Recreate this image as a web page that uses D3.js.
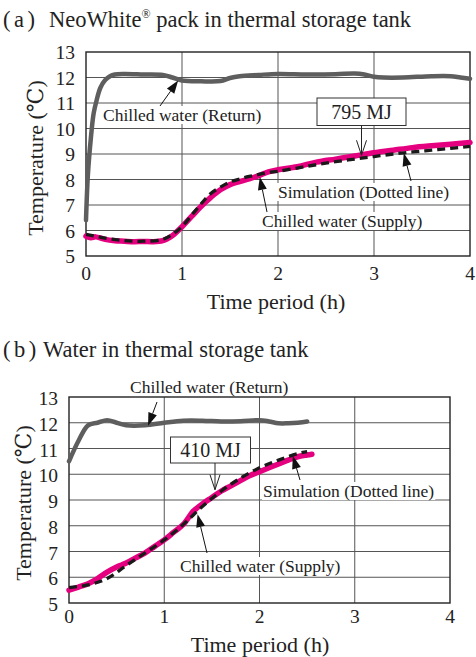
<!DOCTYPE html>
<html><head><meta charset="utf-8">
<script src="https://cdn.jsdelivr.net/npm/d3@7"></script>
<style>
body{margin:0;background:#fff}
svg text{font-family:"Liberation Serif","Times New Roman","DejaVu Serif",serif;fill:#222}
</style>
</head><body>
<svg id="c" width="476" height="657"></svg>
<script>
// ---- data ----
const xTicks = [0, 1, 2, 3, 4];
const yTicks = [5, 6, 7, 8, 9, 10, 11, 12, 13];

// (a) NeoWhite pack
const retA_t = [0, 0.02, 0.05, 0.08, 0.11, 0.15, 0.2, 0.25, 0.3, 0.4, 0.6, 0.8, 0.9, 1.0, 1.2, 1.4, 1.5, 1.6, 1.8, 2.0, 2.3, 2.6, 2.8, 2.9, 3.0, 3.1, 3.3, 3.6, 3.8, 3.9, 4.0];
const retA_v = [6.4, 8.2, 9.6, 10.6, 11.1, 11.6, 11.9, 12.05, 12.12, 12.14, 12.12, 12.1, 12.0, 11.88, 11.85, 11.86, 11.98, 12.05, 12.1, 12.14, 12.12, 12.13, 12.16, 12.12, 12.03, 12.0, 12.0, 12.05, 12.05, 12.0, 11.95];
const supA_t = [0, 0.05, 0.1, 0.2, 0.3, 0.4, 0.5, 0.6, 0.7, 0.8, 0.85, 0.9, 1.0, 1.1, 1.2, 1.3, 1.4, 1.5, 1.6, 1.7, 1.8, 1.9, 2.0, 2.2, 2.4, 2.6, 2.8, 3.0, 3.2, 3.4, 3.6, 3.8, 4.0];
const supA_v = [5.78, 5.72, 5.75, 5.65, 5.6, 5.58, 5.56, 5.57, 5.56, 5.6, 5.68, 5.8, 6.15, 6.55, 6.95, 7.3, 7.6, 7.8, 7.92, 8.02, 8.15, 8.3, 8.38, 8.5, 8.68, 8.8, 8.92, 9.05, 9.15, 9.25, 9.32, 9.38, 9.45];
const simA_t = [0, 0.2, 0.4, 0.6, 0.8, 0.9, 1.0, 1.1, 1.2, 1.3, 1.4, 1.5, 1.6, 1.7, 1.8, 1.9, 2.0, 2.2, 2.4, 2.6, 2.8, 3.0, 3.2, 3.4, 3.6, 3.8, 4.0];
const simA_v = [5.85, 5.7, 5.6, 5.58, 5.65, 5.85, 6.15, 6.6, 7.05, 7.45, 7.7, 7.9, 8.02, 8.12, 8.2, 8.28, 8.32, 8.45, 8.58, 8.7, 8.8, 8.9, 9.0, 9.08, 9.15, 9.22, 9.3];

// (b) Water
const retB_t = [0, 0.1, 0.2, 0.3, 0.4, 0.5, 0.6, 0.8, 1.0, 1.2, 1.4, 1.6, 1.8, 2.0, 2.1, 2.2, 2.3, 2.4, 2.5];
const retB_v = [10.5, 11.3, 11.9, 12.0, 12.1, 12.0, 11.9, 11.9, 12.0, 12.08, 12.08, 12.05, 12.06, 12.1, 12.05, 11.98, 11.98, 12.0, 12.05];
const supB_t = [0, 0.1, 0.2, 0.3, 0.4, 0.5, 0.6, 0.7, 0.8, 0.9, 1.0, 1.1, 1.2, 1.3, 1.33, 1.4, 1.5, 1.6, 1.7, 1.8, 1.9, 2.0, 2.1, 2.2, 2.3, 2.4, 2.5, 2.55];
const supB_v = [5.5, 5.62, 5.75, 5.95, 6.2, 6.4, 6.55, 6.75, 6.95, 7.2, 7.45, 7.75, 8.05, 8.55, 8.65, 8.85, 9.1, 9.35, 9.55, 9.75, 9.95, 10.1, 10.25, 10.4, 10.55, 10.68, 10.75, 10.78];
const simB_t = [0, 0.2, 0.4, 0.6, 0.8, 1.0, 1.2, 1.4, 1.6, 1.8, 2.0, 2.2, 2.4, 2.5];
const simB_v = [5.6, 5.7, 5.95, 6.45, 6.95, 7.45, 8.05, 8.75, 9.35, 9.85, 10.25, 10.55, 10.8, 10.88];

const titleA = "NeoWhite";
const titleA2 = " pack in thermal storage tank";
const titleB = "Water in thermal storage tank";
const xTitle = "Time period (h)";
const yTitle = "Temperature (\u2103)";
const lblReturn = "Chilled water (Return)";
const lblSupply = "Chilled water (Supply)";
const lblSim = "Simulation (Dotted line)";
const energyA = "795 MJ";
const energyB = "410 MJ";

// ---- drawing ----
const FONT = "'Liberation Serif','Times New Roman','DejaVu Serif',serif";
const svg = d3.select("#c");
svg.append("rect").attr("width", 476).attr("height", 657).attr("fill", "#fff");

const PINK = "#e5007f", GRAY = "#5e5e5e";

function txt(sel) { return sel.append("text").attr("font-family", FONT).attr("fill", "#222"); }

function panel(cfg) {
  const x = d3.scaleLinear().domain([0, 4]).range([cfg.L, cfg.R]);
  const y = d3.scaleLinear().domain([5, 13]).range([cfg.B, cfg.T]);
  const g = svg.append("g");
  // grid
  g.selectAll(".gy").data(yTicks.slice(1, -1)).join("line")
    .attr("x1", cfg.L).attr("x2", cfg.R).attr("y1", d => y(d)).attr("y2", d => y(d))
    .attr("stroke", "#555").attr("stroke-width", 1);
  g.selectAll(".gx").data(xTicks.slice(1, -1)).join("line")
    .attr("y1", cfg.T).attr("y2", cfg.B).attr("x1", d => x(d)).attr("x2", d => x(d))
    .attr("stroke", "#555").attr("stroke-width", 1);
  g.append("rect").attr("x", cfg.L).attr("y", cfg.T).attr("width", cfg.R - cfg.L).attr("height", cfg.B - cfg.T)
    .attr("fill", "none").attr("stroke", "#222").attr("stroke-width", 1.4);
  // tick labels
  yTicks.forEach(d => txt(g).attr("x", cfg.L - 11).attr("y", y(d) + cfg.yOff).attr("text-anchor", "end")
    .attr("font-size", 19.5).text(d));
  xTicks.forEach(d => txt(g).attr("x", x(d)).attr("y", cfg.xTickY).attr("text-anchor", "middle")
    .attr("font-size", 19.5).text(d));
  // axis titles
  txt(g).attr("x", cfg.xTitleX).attr("y", cfg.xTitleY).attr("text-anchor", "middle")
    .attr("font-size", 22).text(xTitle);
  txt(g).attr("transform", `translate(${cfg.yTitleX},${cfg.yTitleY}) rotate(-90)`)
    .attr("text-anchor", "middle").attr("font-size", 22).text(yTitle);

  const lineGen = (ts, vs) => d3.line().curve(d3.curveCatmullRom.alpha(0.5))
    .x(i => x(ts[i])).y(i => y(vs[i]))(d3.range(ts.length));

  // labels with white backgrounds
  function label(s, px, py, size) {
    const t = txt(g).attr("x", px).attr("y", py).attr("font-size", size).text(s);
    const bb = t.node().getBBox();
    g.insert("rect", () => t.node()).attr("x", bb.x - 1).attr("y", bb.y + 1).attr("width", bb.width + 2)
      .attr("height", bb.height - 2).attr("fill", "#fff");
  }
  cfg.labels.forEach(l => label(l.txt, l.x, l.y, 17.5));

  // energy box
  const eb = cfg.energy;
  g.append("rect").attr("x", eb.x0).attr("y", eb.y0).attr("width", eb.x1 - eb.x0).attr("height", eb.y1 - eb.y0)
    .attr("fill", "#fff").attr("stroke", "#333").attr("stroke-width", 1);
  txt(g).attr("x", (eb.x0 + eb.x1) / 2).attr("y", (eb.y0 + eb.y1) / 2 + 7).attr("text-anchor", "middle")
    .attr("font-size", 20).text(eb.txt);

  // curves
  g.append("path").attr("d", lineGen(cfg.ret[0], cfg.ret[1])).attr("fill", "none")
    .attr("stroke", GRAY).attr("stroke-width", 4.5).attr("stroke-linejoin", "round").attr("stroke-linecap", "round");
  g.append("path").attr("d", lineGen(cfg.sup[0], cfg.sup[1])).attr("fill", "none")
    .attr("stroke", PINK).attr("stroke-width", 5.5).attr("stroke-linejoin", "round").attr("stroke-linecap", "round");
  g.append("path").attr("d", lineGen(cfg.sim[0], cfg.sim[1])).attr("fill", "none")
    .attr("stroke", "#1a1a1a").attr("stroke-width", 3.3).attr("stroke-dasharray", "8,5");

  // arrows with filled heads
  function arrow(x0, y0, tt, tv) {
    const x1 = x(tt), y1 = y(tv);
    const ang = Math.atan2(y1 - y0, x1 - x0);
    const L = 13, W = 4.5;
    const bx = x1 - L * Math.cos(ang), by = y1 - L * Math.sin(ang);
    g.append("line").attr("x1", x0).attr("y1", y0).attr("x2", bx).attr("y2", by)
      .attr("stroke", "#111").attr("stroke-width", 1);
    const px = -Math.sin(ang) * W, py = Math.cos(ang) * W;
    g.append("path").attr("d", `M${x1},${y1}L${bx + px},${by + py}L${bx - px},${by - py}Z`).attr("fill", "#111");
  }
  cfg.arrows.forEach(a => arrow(a[0], a[1], a[2], a[3]));

  // energy pointer (open V)
  const ex = (eb.x0 + eb.x1) / 2 + eb.dx, tipY = y(eb.tipV);
  g.append("line").attr("x1", ex).attr("x2", ex).attr("y1", eb.y1).attr("y2", tipY).attr("stroke", "#222").attr("stroke-width", 1);
  g.append("path").attr("d", `M${ex - 5},${tipY - 15}L${ex},${tipY}L${ex + 5},${tipY - 15}`)
    .attr("fill", "none").attr("stroke", "#222").attr("stroke-width", 1);
}

panel({
  L: 86, R: 470, T: 52, B: 256, yOff: 7, xTickY: 280,
  xTitleX: 276, xTitleY: 309, yTitleX: 43, yTitleY: 158,
  ret: [retA_t, retA_v], sup: [supA_t, supA_v], sim: [simA_t, simA_v],
  labels: [
    { txt: lblReturn, x: 103, y: 121 },
    { txt: lblSim, x: 278, y: 198 },
    { txt: lblSupply, x: 262, y: 227 }
  ],
  arrows: [[160, 106, 0.96, 11.88], [267, 212, 1.81, 8.1], [411, 181, 3.31, 9.04]],
  energy: { x0: 317, x1: 406, y0: 98, y1: 125.5, txt: energyA, dx: 0, tipV: 8.95 }
});

panel({
  L: 69, R: 450, T: 397, B: 603, yOff: 8, xTickY: 623,
  xTitleX: 260, xTitleY: 652, yTitleX: 31, yTitleY: 503,
  ret: [retB_t, retB_v], sup: [supB_t, supB_v], sim: [simB_t, simB_v],
  labels: [
    { txt: lblReturn, x: 130, y: 393 },
    { txt: lblSim, x: 263, y: 497 },
    { txt: lblSupply, x: 180, y: 572 }
  ],
  arrows: [[157, 402, 0.83, 11.88], [207, 553, 1.35, 8.45], [300, 480, 2.35, 10.72]],
  energy: { x0: 170.5, x1: 250.5, y0: 437, y1: 463, txt: energyB, dx: 4.5, tipV: 9.4 }
});

// titles
const ta = txt(svg).attr("x", 3).attr("y", 27).attr("font-size", 22.5);
ta.append("tspan").attr("letter-spacing", 3.5).text("(a)");
ta.append("tspan").attr("x", 49).text(titleA);
ta.append("tspan").attr("font-size", 12).attr("dy", -9).text("\u00ae");
ta.append("tspan").attr("dy", 9).text(titleA2);

const tb = txt(svg).attr("x", 3).attr("y", 357).attr("font-size", 22.5);
tb.append("tspan").attr("letter-spacing", 3.5).text("(b)");
tb.append("tspan").attr("x", 43).text(titleB);
</script>
</body></html>
